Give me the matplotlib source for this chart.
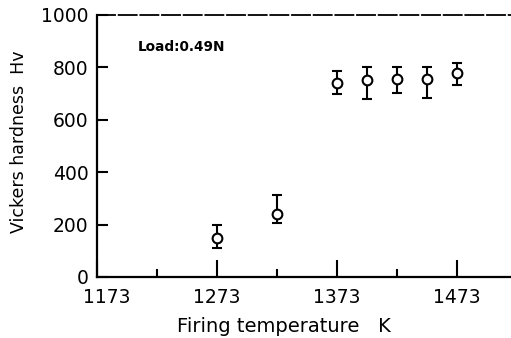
import matplotlib
matplotlib.use("Agg")
import matplotlib.pyplot as plt
from matplotlib.ticker import FixedLocator
from matplotlib.transforms import ScaledTranslation

temps = [1273, 1323, 1373, 1398, 1423, 1448, 1473]
hv = [148, 240, 739, 752, 756, 756, 777]
err_hi = [198, 313, 787, 803, 803, 800, 816]
err_lo = [112, 205, 697, 679, 703, 684, 733]
xticks = [1173, 1273, 1373, 1473]
xminor = [1223, 1323, 1423]
yticks = [0, 200, 400, 600, 800, 1000]

fig = plt.figure(figsize=(5.11, 3.38), dpi=100)
ax = fig.add_axes([97/511, 61/338, 1 - 97/511, 262/338])

yerr = [[h - lo for h, lo in zip(hv, err_lo)], [hi - h for h, hi in zip(hv, err_hi)]]
ax.errorbar(temps, hv, yerr=yerr, fmt='o', mfc='white', mec='black', mew=1.5,
            ms=7, ecolor='black', elinewidth=1.5, capsize=3.5, capthick=1.5, color='black')

ax.set_xlim(1173, 1518)
ax.set_ylim(0, 1000)
ax.xaxis.set_major_locator(FixedLocator(xticks))
ax.xaxis.set_minor_locator(FixedLocator(xminor))
ax.yaxis.set_major_locator(FixedLocator(yticks))
ax.tick_params(axis='x', which='major', direction='in', length=12, width=1.5, labelsize=13.5, pad=8)
ax.tick_params(axis='x', which='minor', direction='in', length=6, width=1.5)
ax.tick_params(axis='y', which='major', direction='in', length=8, width=1.5, labelsize=13.5, pad=6)
ax.spines['right'].set_visible(False)
for s in ['left', 'bottom']:
    ax.spines[s].set_linewidth(1.6)
ax.spines['top'].set_linewidth(1.3)
ax.spines['top'].set_linestyle((0, (10, 2)))

fig.canvas.draw()
lbl = ax.get_xticklabels()[0]
lbl.set_transform(lbl.get_transform() + ScaledTranslation(10/100, 0, fig.dpi_scale_trans))

ax.text(1207, 878, 'Load:0.49N', fontsize=9.8, fontweight='semibold', va='center', ha='left')

fig.text(284/511, 1 - 326/338, 'Firing temperature   K', fontsize=14, ha='center', va='center')
fig.text(19/511, 1 - 142/338, 'Vickers hardness  Hv', fontsize=12.5, rotation=90, ha='center', va='center')

fig.savefig('out.png', dpi=100)
